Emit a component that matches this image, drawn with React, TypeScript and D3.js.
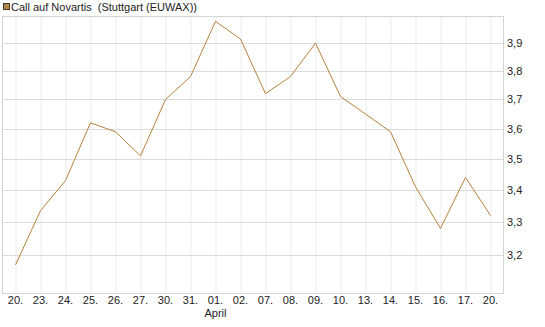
import React from "react";
import * as d3 from "d3";

const dates = ["20.", "23.", "24.", "25.", "26.", "27.", "30.", "31.", "01.", "02.", "07.", "08.", "09.", "10.", "13.", "14.", "15.", "16.", "17.", "20."];
const prices = [3.17, 3.335, 3.43, 3.62, 3.59, 3.51, 3.7, 3.78, 3.98, 3.915, 3.72, 3.78, 3.9, 3.71, 3.65, 3.59, 3.41, 3.28, 3.44, 3.32];
const yTicks = [3.2, 3.3, 3.4, 3.5, 3.6, 3.7, 3.8, 3.9];
const monthLabels = [{ at: 8, text: "April" }];
const title = "Call auf Novartis  (Stuttgart (EUWAX))";

const W = 545;
const H = 327;
const left = 3;
const right = 503;
const top = 16;
const bottom = 293;
const font = "'Liberation Sans', Arial, sans-serif";

export default function App() {
  const keys = dates.map((d, i) => String(i));
  const x = d3.scalePoint<string>().domain(keys).range([left, right]).padding(0.5);
  const y = d3.scaleLog().domain([3.088, 4.0]).range([bottom, top]);

  const line = d3
    .line<number>()
    .x((_, i) => x(String(i)) as number)
    .y((d) => y(d));

  return (
    <svg width={W} height={H} style={{ position: "absolute", left: 0, top: 0 }} fontFamily={font}>
      <rect x={0} y={0} width={W} height={H} fill="#fff" />
      {/* legend */}
      <rect x={3.5} y={3.5} width={6} height={6} fill="#b08a52" stroke="#4a3a22" strokeWidth={1} />
      <text x={11} y={10.5} fontSize={11} fill="#222" style={{ whiteSpace: "pre" }}>
        {title}
      </text>
      {/* vertical grid */}
      {keys.map((k) => (
        <line key={"v" + k} x1={(x(k) as number) + 0.5} x2={(x(k) as number) + 0.5} y1={top} y2={bottom} stroke="#ececec" />
      ))}
      {/* horizontal grid */}
      {yTicks.map((t) => (
        <line key={"h" + t} x1={left} x2={right} y1={Math.round(y(t)) + 0.5} y2={Math.round(y(t)) + 0.5} stroke="#dcdcdc" />
      ))}
      {/* frame */}
      <rect x={left - 0.5} y={top + 0.5} width={right - left + 1} height={bottom - top} fill="none" stroke="#d4d4d4" />
      {/* series */}
      <path d={line(prices) || ""} fill="none" stroke="#b5823c" strokeWidth={1} />
      {/* y labels */}
      {yTicks.map((t) => (
        <text key={"yl" + t} x={507} y={y(t) + 4} fontSize={11} fill="#222">
          {d3.format(".1f")(t).replace(".", ",")}
        </text>
      ))}
      {/* x labels */}
      {dates.map((d, i) => (
        <text key={"xl" + i} x={x(String(i)) as number} y={304} fontSize={11} fill="#222" textAnchor="middle">
          {d}
        </text>
      ))}
      {monthLabels.map((m) => (
        <text key={m.text} x={x(String(m.at)) as number} y={317} fontSize={11} fill="#222" textAnchor="middle">
          {m.text}
        </text>
      ))}
    </svg>
  );
}
